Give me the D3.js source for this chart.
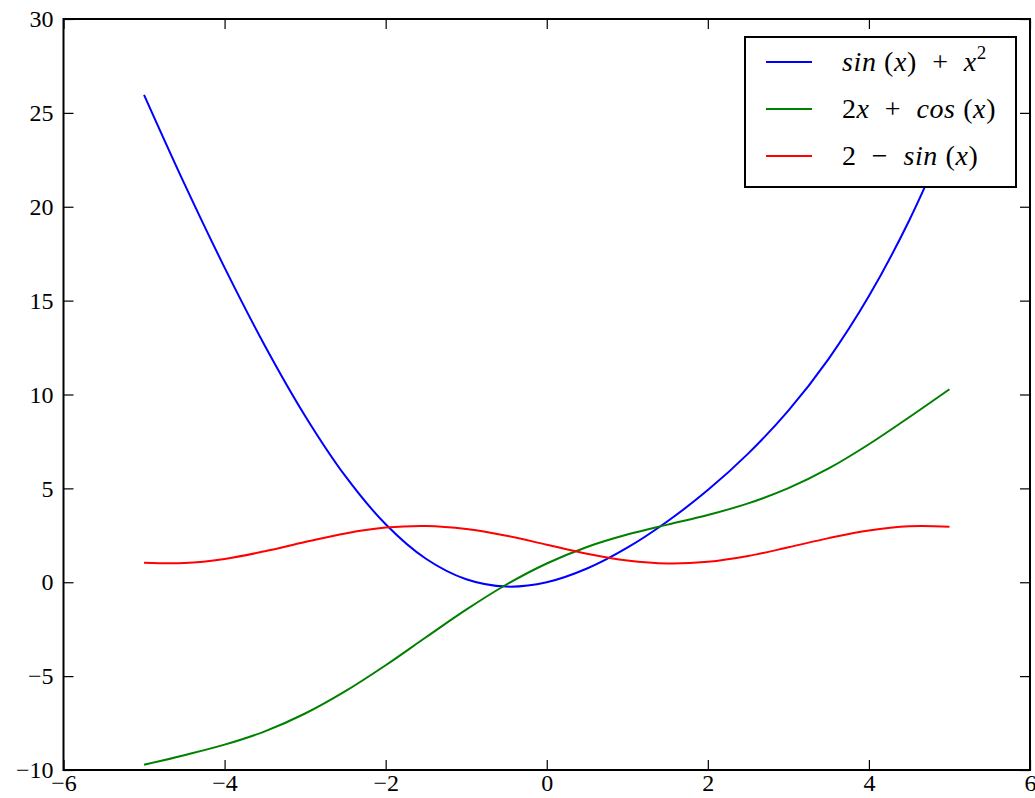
<!DOCTYPE html>
<html>
<head>
<meta charset="utf-8">
<script src="https://cdnjs.cloudflare.com/ajax/libs/d3/7.8.5/d3.min.js"></script>
<style>
  body { margin: 0; background: #fff; }
  svg { display: block; }
  .tick text { font-family: "Times New Roman", "Liberation Serif", Times, serif; font-size: 24px; fill: #000; }
  .leg text { font-family: "Times New Roman", "Liberation Serif", Times, serif; font-size: 28px; fill: #000; white-space: pre; letter-spacing: 0.6px; }
</style>
</head>
<body>
<svg id="chart"></svg>
<script>
var xs = [-5, -4.5, -4, -3.5, -3, -2.5, -2, -1.5, -1, -0.5, 0, 0.5, 1, 1.5, 2, 2.5, 3, 3.5, 4, 4.5, 5];
var blueVals = [25.96, 21.23, 16.76, 12.60, 8.86, 5.65, 3.09, 1.25, 0.16, -0.23, 0.00, 0.73, 1.84, 3.25, 4.91, 6.85, 9.14, 11.90, 15.24, 19.27, 24.04];
var greenVals = [-9.72, -9.21, -8.65, -7.94, -6.99, -5.80, -4.42, -2.93, -1.46, -0.12, 1.00, 1.88, 2.54, 3.07, 3.58, 4.20, 5.01, 6.06, 7.35, 8.79, 10.28];
var redVals = [1.04, 1.02, 1.24, 1.65, 2.14, 2.60, 2.91, 3.00, 2.84, 2.48, 2.00, 1.52, 1.16, 1.00, 1.09, 1.40, 1.86, 2.35, 2.76, 2.98, 2.96];
var xTicks = [-6, -4, -2, 0, 2, 4, 6];
var yTicks = [-10, -5, 0, 5, 10, 15, 20, 25, 30];

var series = [
	{ name: "blue", color: "#0000ff", values: blueVals,
	  label: [["sin", "i"], [" (", "r"], ["x", "i"], [")  +  ", "r"], ["x", "i"], ["2", "sup"]] },
	{ name: "green", color: "#008000", values: greenVals,
	  label: [["2", "r"], ["x", "i"], ["  +  ", "r"], ["cos", "i"], [" (", "r"], ["x", "i"], [")", "r"]] },
	{ name: "red", color: "#ff0000", values: redVals,
	  label: [["2  \u2212  ", "r"], ["sin", "i"], [" (", "r"], ["x", "i"], [")", "r"]] }
];

var width = 1035;
var height = 798;
var margin = { left: 63.5, right: 5, top: 19, bottom: 28 };

var svg = d3.select("#chart").attr("width", width).attr("height", height);

var x = d3.scaleLinear().domain([-6, 6]).range([margin.left, width - margin.right]);
var y = d3.scaleLinear().domain([-10, 30]).range([height - margin.bottom, margin.top]);

function fmt(d) { return d < 0 ? "\u2212" + Math.abs(d) : "" + d; }

// lines first, frame on top
var line = d3.line()
	.x(function(d, i) { return x(xs[i]); })
	.y(function(d) { return y(d); })
	.curve(d3.curveCatmullRom.alpha(0.5));

svg.append("g").selectAll("path")
	.data(series)
	.enter().append("path")
	.attr("d", function(d) { return line(d.values); })
	.attr("fill", "none")
	.attr("stroke", function(d) { return d.color; })
	.attr("stroke-width", 2);

// axes, ticks pointing inward on all four sides
var axBottom = svg.append("g")
	.attr("transform", "translate(0," + y(-10) + ")")
	.call(d3.axisBottom(x).tickValues(xTicks).tickFormat(fmt).tickSizeInner(-10).tickSizeOuter(0).tickPadding(4));
var axLeft = svg.append("g")
	.attr("transform", "translate(" + x(-6) + ",0)")
	.call(d3.axisLeft(y).tickValues(yTicks).tickFormat(fmt).tickSizeInner(-10).tickSizeOuter(0).tickPadding(10));
var axTop = svg.append("g")
	.attr("transform", "translate(0," + y(30) + ")")
	.call(d3.axisTop(x).tickValues(xTicks).tickFormat("").tickSizeInner(-10).tickSizeOuter(0));
var axRight = svg.append("g")
	.attr("transform", "translate(" + x(6) + ",0)")
	.call(d3.axisRight(y).tickValues(yTicks).tickFormat("").tickSizeInner(-10).tickSizeOuter(0));

[axBottom, axLeft, axTop, axRight].forEach(function(a) {
	a.select(".domain").remove();
	a.selectAll(".tick line").attr("stroke", "#000").attr("stroke-width", 1.2);
});
axBottom.selectAll(".tick text").attr("dy", "0.72em");

svg.append("rect")
	.attr("x", x(-6)).attr("y", y(30))
	.attr("width", x(6) - x(-6)).attr("height", y(-10) - y(30))
	.attr("fill", "none").attr("stroke", "#000").attr("stroke-width", 2);

// legend
var legend = svg.append("g").attr("class", "leg").attr("transform", "translate(745,37)");
legend.append("rect")
	.attr("width", 271).attr("height", 150)
	.attr("fill", "#fff").attr("stroke", "#000").attr("stroke-width", 2);

var item = legend.selectAll(".item")
	.data(series)
	.enter().append("g")
	.attr("class", "item")
	.attr("transform", function(d, i) { return "translate(0," + (25 + i * 47) + ")"; });

item.append("line")
	.attr("x1", 21).attr("x2", 67)
	.attr("stroke", function(d) { return d.color; })
	.attr("stroke-width", 2);

var txt = item.append("text")
	.attr("x", 97).attr("y", 9);

txt.each(function(d) {
	var t = d3.select(this);
	d.label.forEach(function(p) {
		var s = t.append("tspan").text(p[0]);
		if (p[1] == "i") s.style("font-style", "italic");
		if (p[1] == "sup") s.attr("dy", -12).style("font-size", "19px");
	});
});
</script>
</body>
</html>
